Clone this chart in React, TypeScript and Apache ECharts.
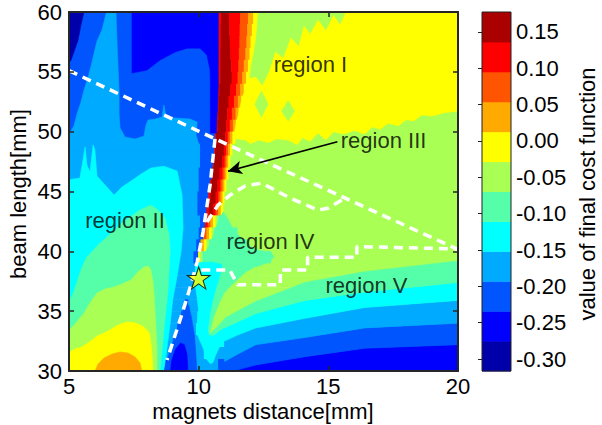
import React, { useEffect, useRef } from 'react';
import * as echarts from 'echarts';

const FONT = '"Liberation Sans", Arial, Helvetica, sans-serif';

const xTicks = [5, 10, 15, 20];
const yTicks = [30, 35, 40, 45, 50, 55, 60];
const cbTicks = [-0.3, -0.25, -0.2, -0.15, -0.1, -0.05, 0, 0.05, 0.1, 0.15];
const cbEdges = [-0.3165, -0.2753, -0.2342, -0.193, -0.1518, -0.1107, -0.0695, -0.0283, 0.0128, 0.054, 0.0952, 0.1363, 0.1775];
const jet12 = ['#0000AA', '#0000FF', '#0055FF', '#00AAFF', '#00FFFF', '#55FFAA', '#AAFF55', '#FFFF00', '#FFAA00', '#FF5500', '#FF0000', '#AA0000'];

// base field, row by row: [yBottom, level, xEnd, level, xEnd, ...] starting at x = 5
const fieldRows: number[][] = [
  [59, 2, 10.75, 10, 10.86, 11, 11.17, 10, 11.6, 9, 11.9, 8, 12.1, 7, 20],
  [58, 2, 10.75, 10, 10.85, 11, 11.18, 10, 11.58, 9, 11.87, 8, 12.05, 7, 20],
  [57, 2, 10.75, 10, 10.85, 11, 11.2, 10, 11.57, 9, 11.84, 8, 12.0, 7, 20],
  [56, 2, 10.75, 10, 10.84, 11, 11.22, 10, 11.55, 9, 11.8, 8, 11.96, 7, 20],
  [55, 2, 10.75, 10, 10.84, 11, 11.25, 10, 11.53, 9, 11.74, 8, 11.9, 7, 20],
  [54, 2, 10.75, 10, 10.83, 11, 11.27, 10, 11.5, 9, 11.68, 8, 11.83, 7, 20],
  [53, 2, 10.74, 10, 10.8, 11, 11.22, 10, 11.44, 9, 11.6, 8, 11.74, 7, 20],
  [52, 2, 10.72, 10, 10.77, 11, 11.15, 10, 11.36, 9, 11.51, 8, 11.64, 7, 20],
  [51, 2, 10.7, 10, 10.75, 11, 11.1, 10, 11.28, 9, 11.42, 8, 11.54, 7, 11.65, 6, 20],
  [50, 2, 10.68, 10, 10.72, 11, 11.06, 10, 11.2, 9, 11.32, 8, 11.43, 7, 11.53, 6, 20],
  [49, 2, 10.63, 10, 10.67, 11, 11.02, 10, 11.12, 9, 11.2, 8, 11.3, 7, 11.42, 6, 20],
  [48, 3, 10.05, 2, 10.6, 10, 10.63, 11, 10.97, 10, 11.06, 9, 11.13, 8, 11.21, 7, 11.3, 6, 20],
  [47, 3, 10.05, 2, 10.55, 10, 10.58, 11, 10.9, 10, 11.0, 9, 11.07, 8, 11.14, 7, 11.22, 6, 20],
  [46, 3, 10.0, 2, 10.5, 10, 10.52, 11, 10.8, 10, 10.92, 9, 11.0, 8, 11.07, 7, 11.15, 6, 20],
  [45, 3, 10.0, 2, 10.44, 10, 10.47, 11, 10.72, 10, 10.84, 9, 10.92, 8, 10.99, 7, 11.07, 6, 20],
  [44, 3, 9.95, 2, 10.37, 10, 10.45, 11, 10.65, 10, 10.76, 9, 10.84, 8, 10.92, 7, 11.0, 6, 20],
  [43, 3, 9.95, 2, 10.3, 10, 10.4, 11, 10.55, 10, 10.65, 9, 10.75, 8, 10.85, 7, 10.95, 6, 20],
  [42, 3, 10.05, 2, 10.24, 10, 10.35, 9, 10.45, 8, 10.55, 7, 10.65, 6, 10.75, 5, 11.0, 6, 20],
  [41, 3, 10.0, 2, 10.17, 9, 10.3, 8, 10.4, 7, 10.5, 6, 10.6, 5, 11.5, 6, 20],
  [40, 3, 9.9, 2, 10.07, 8, 10.2, 7, 10.3, 6, 10.4, 5, 11.9, 6, 20],
  [39, 3, 9.8, 2, 9.98, 7, 10.05, 6, 10.15, 5, 12.8, 6, 20],
  [38, 3, 9.87, 4, 10.85, 5, 11.9, 6, 20],
  [37, 3, 9.85, 4, 10.75, 5, 11.5, 6, 20],
  [36, 3, 9.95, 4, 10.65, 5, 11.0, 6, 20],
  [35, 3, 9.46, 2, 9.6, 3, 10.0, 4, 10.45, 5, 10.8, 6, 20],
  [34, 3, 9.32, 2, 9.5, 3, 9.95, 4, 10.45, 5, 10.7, 6, 20],
  [33, 3, 9.17, 2, 9.45, 3, 9.9, 4, 10.3, 5, 10.45, 6, 10.6, 5, 10.9, 4, 20],
  [32, 3, 9.02, 2, 9.25, 1, 9.6, 2, 9.85, 3, 10.2, 4, 10.45, 5, 10.6, 4, 11.0, 3, 20],
  [31, 3, 8.87, 1, 9.55, 2, 9.85, 3, 10.2, 4, 10.6, 3, 20],
  [30, 3, 8.72, 1, 9.5, 2, 9.9, 3, 10.75, 2, 20],
];

// closed contour regions (x, y outlines), painted in order
const regionOutlines: { level: number; pts: number[][] }[] = [
  { level: 3, pts: [[6.47, 60.2], [6.81, 60.2], [6.85, 57.57], [6.89, 55.48], [6.93, 53.48], [6.93, 51.47], [6.97, 50.3], [7.16, 49.55], [7.55, 49.38], [7.89, 49.63], [7.97, 50.55], [8.05, 50.97], [8.32, 51.05], [8.59, 51.22], [8.66, 52.22], [8.74, 51.22], [9.09, 51.14], [9.67, 51.05], [9.94, 50.8], [9.9, 49.72], [10.01, 48.88], [10.05, 48.4], [4.9, 48.4], [4.9, 49.47], [5.19, 50.47], [5.31, 51.47], [5.46, 52.47], [5.58, 53.48], [5.73, 54.48], [5.85, 55.48], [5.96, 56.48], [6.08, 57.57], [6.27, 58.49]] },
  { level: 0, pts: [[4.9, 60.2], [5.6, 60.2], [5.46, 58.91], [5.35, 57.65], [5.19, 56.65], [5.08, 55.98], [4.9, 55.48]] },
  { level: 1, pts: [[7.43, 60.2], [10.76, 60.2], [10.76, 54.0], [10.73, 52.0], [10.7, 51.0], [10.68, 49.88], [10.45, 49.88], [10.45, 54.0], [10.44, 55.15], [10.32, 56.4], [10.05, 56.98], [9.55, 56.98], [9.09, 56.65], [8.51, 55.98], [8.01, 55.15], [7.43, 54.9]] },
  { level: 4, pts: [[4.9, 45.96], [5.42, 46.12], [5.54, 47.63], [5.62, 48.71], [5.69, 47.21], [5.81, 46.62], [5.93, 48.88], [6.0, 48.46], [6.08, 46.29], [6.39, 45.54], [6.74, 44.7], [7.04, 45.37], [7.39, 45.87], [7.78, 46.46], [8.16, 46.96], [8.66, 47.12], [9.17, 46.71], [9.36, 44.7], [9.4, 41.95], [9.32, 39.94], [9.17, 37.94], [9.0, 35.93], [8.9, 33.93], [8.78, 31.92], [8.62, 29.5], [4.9, 29.5]] },
  { level: 5, pts: [[4.9, 35.35], [5.15, 36.43], [5.31, 37.44], [5.46, 38.44], [5.66, 39.44], [6.08, 40.44], [6.58, 41.45], [7.08, 42.45], [7.74, 43.45], [8.16, 43.87], [8.43, 43.45], [8.7, 42.78], [8.86, 41.36], [8.9, 40.11], [8.86, 38.44], [8.82, 36.77], [8.74, 35.1], [8.66, 33.43], [8.59, 31.75], [8.51, 30.0], [8.5, 29.5], [4.9, 29.5]] },
  { level: 6, pts: [[4.9, 33.17], [5.27, 34.01], [5.58, 34.85], [5.81, 35.68], [6.08, 36.52], [6.39, 36.85], [6.74, 37.02], [7.04, 37.27], [7.39, 37.6], [7.66, 38.27], [7.89, 38.69], [8.05, 38.77], [8.16, 38.44], [8.24, 37.44], [8.28, 36.52], [8.32, 34.85], [8.36, 33.17], [8.39, 31.75], [8.39, 29.5], [4.9, 29.5]] },
  { level: 7, pts: [[4.9, 31.42], [5.23, 31.84], [5.5, 32.0], [5.73, 32.34], [5.89, 32.59], [6.08, 32.92], [6.35, 33.17], [6.58, 33.43], [6.89, 33.84], [7.24, 34.09], [7.58, 34.01], [7.89, 33.68], [8.09, 33.17], [8.16, 32.34], [8.2, 31.34], [8.24, 29.5], [4.9, 29.5]] },
  { level: 8, pts: [[5.9, 29.5], [6.12, 30.58], [6.35, 31.09], [6.66, 31.42], [6.97, 31.59], [7.28, 31.5], [7.55, 31.17], [7.74, 30.67], [7.86, 29.5]] },
  // trough below the star
  { level: 2, pts: [[8.6, 29.5], [8.78, 30.92], [9.05, 32.7], [9.32, 34.51], [9.46, 35.5], [9.62, 35.5], [9.72, 34.5], [9.82, 33.2], [9.88, 31.8], [9.92, 30.5], [9.95, 29.5]] },
  { level: 1, pts: [[8.9, 29.5], [8.95, 30.8], [9.1, 31.8], [9.3, 32.35], [9.45, 32.2], [9.55, 31.4], [9.58, 30.2], [9.6, 29.5]] },
  // region under "region IV" and the tongue below it
  { level: 5, pts: [[10.15, 39.5], [10.4, 40.5], [10.6, 41.5], [10.75, 42.5], [10.95, 43.3], [11.1, 42.8], [11.3, 42.0], [11.6, 41.2], [11.9, 40.5], [12.3, 40.1], [12.8, 39.9], [12.9, 39.5], [12.6, 39.0], [12.2, 38.7], [12.2, 35.8], [11.5, 35.0], [11.0, 34.4], [11.0, 33.6], [10.7, 33.0], [10.5, 32.6], [10.25, 32.6], [10.25, 39.3]] },
  { level: 4, pts: [[9.9, 39.05], [9.85, 38.0], [9.88, 37.0], [9.95, 36.0], [10.0, 35.0], [9.95, 34.0], [9.92, 33.2], [10.05, 32.5], [10.2, 31.8], [10.3, 31.0], [10.45, 30.6], [10.55, 30.7], [10.65, 31.3], [10.8, 32.0], [11.0, 32.5], [11.0, 33.6], [10.8, 33.3], [10.55, 32.9], [10.38, 33.0], [10.35, 33.5], [10.4, 34.2], [10.45, 35.0], [10.55, 36.0], [10.65, 36.8], [10.75, 37.5], [10.85, 38.3], [10.9, 38.9], [10.5, 39.1]] },
  { level: 6, pts: [[10.45, 33.2], [10.7, 33.7], [11.0, 34.4], [11.5, 35.0], [12.2, 35.8], [12.2, 38.7], [11.8, 38.2], [11.5, 37.6], [11.2, 37.0], [11.0, 36.5], [10.8, 35.6], [10.6, 34.5]] },
  // region I: lower edge of the yellow area, the green-yellow zone at its top left and two patches
  { level: 7, pts: [[11.74, 53.2], [11.64, 52.5], [11.54, 51.5], [11.43, 50.5], [11.35, 49.6], [11.45, 49.4], [11.8, 49.3], [12.0, 49.0], [12.3, 49.3], [12.7, 49.1], [13.0, 49.4], [13.45, 49.3], [13.8, 48.9], [14.0, 49.5], [14.3, 49.2], [14.6, 49.9], [14.9, 49.3], [15.2, 50.0], [15.6, 49.8], [16.0, 50.1], [16.4, 49.8], [16.7, 50.4], [17.0, 50.2], [17.3, 50.7], [17.7, 50.5], [18.0, 51.0], [18.3, 50.9], [18.6, 51.4], [19.0, 51.3], [19.5, 51.6], [20.0, 51.7], [20.2, 51.7], [20.2, 53.2]] },
  { level: 6, pts: [[12.3, 60.2], [15.7, 60.2], [15.45, 59.0], [15.2, 59.8], [14.9, 58.5], [14.6, 59.4], [14.3, 58.2], [14.05, 58.9], [13.85, 57.2], [13.55, 57.9], [13.25, 56.2], [12.95, 56.7], [12.7, 55.0], [12.45, 53.9], [12.2, 54.6], [11.97, 54.5], [12.03, 55.5], [12.12, 56.5], [12.2, 57.5], [12.25, 58.5]] },
  { level: 6, pts: [[12.42, 53.4], [12.67, 52.3], [12.42, 51.2], [12.17, 52.3]] },
  { level: 6, pts: [[13.45, 52.6], [13.7, 51.7], [13.45, 50.9], [13.2, 51.7]] },
];

// lower-right contour band boundaries (y at bandX)
const bandX = [11.0, 11.5, 12.2, 14.1, 16.4, 20];
const bound65 = [34.4, 35.0, 35.8, 37.4, 38.3, 39.2];
const bound54 = [33.6, 34.1, 34.8, 35.9, 36.6, 37.4];
const bound43 = [32.5, 33.0, 33.6, 34.4, 35.3, 35.9];
const bound32 = [30.8, 31.4, 32.2, 32.8, 33.6, 34.0];
const bound21 = [29.8, 30.1, 30.5, 31.2, 31.9, 32.2];

const lineA = [[5, 55.1], [10.63, 49.4], [20, 40.15]];
const lineB = [[10.63, 49.4], [10.44, 45.54], [10.17, 41.61], [9.94, 39.1], [9.7, 37.18], [9.32, 34.51], [8.78, 30.92]];
const lineC = [[10.32, 42.45], [10.75, 43.87], [11.21, 44.7], [11.79, 45.46], [12.44, 45.7], [13.45, 44.53], [14.6, 43.45], [14.99, 43.6], [15.64, 44.45]];
const lineD = [[10.1, 38.45], [11.2, 38.45], [11.5, 37.2], [13.15, 37.2], [13.15, 38.45], [14.2, 38.45], [14.2, 39.5], [16.1, 39.5], [16.1, 40.4], [20, 40.2]];
const starPoint = [10.0, 37.77];
const arrowFrom = [15.35, 49.15];
const arrowTo = [11.13, 46.7];
const regionLabels = [
  { name: 'region I', value: [14.31, 55.65] },
  { name: 'region III', value: [17.13, 49.3] },
  { name: 'region II', value: [7.16, 42.61] },
  { name: 'region IV', value: [12.77, 40.86] },
  { name: 'region V', value: [16.47, 37.18] },
];

export default function App() {
  const ref = useRef<HTMLDivElement>(null);
  useEffect(() => {
    if (!ref.current) return;
    const chart = echarts.init(ref.current, undefined, { renderer: 'svg' });

    const segments: number[][] = [];
    fieldRows.forEach((r) => {
      const y0 = r[0];
      let x = 5;
      for (let i = 1; i < r.length; i += 2) {
        segments.push([x, r[i + 1], y0, y0 + 1, r[i]]);
        x = r[i + 1];
      }
    });
    const cbData = jet12.map((_, i) => [i, cbEdges[i], cbEdges[i + 1]]);
    const bottomLine = bandX.map(() => 29);
    const bands = [
      { level: 1, lower: bottomLine, upper: bound21 },
      { level: 2, lower: bound21, upper: bound32 },
      { level: 3, lower: bound32, upper: bound43 },
      { level: 4, lower: bound43, upper: bound54 },
      { level: 5, lower: bound54, upper: bound65 },
    ];
    const polys: { level: number; pts: number[][] }[] = [...regionOutlines];
    bands.forEach((b) => {
      const pts: number[][] = [];
      bandX.forEach((x, k) => pts.push([x, b.lower[k]]));
      for (let k = bandX.length - 1; k >= 0; k--) pts.push([bandX[k], b.upper[k]]);
      polys.push({ level: b.level, pts });
    });

    const axisColor = '#262626';
    const mainAxisCommon = {
      gridIndex: 0,
      type: 'value' as const,
      z: 10,
      axisLine: { show: true, onZero: false, lineStyle: { color: axisColor, width: 2 } },
      axisTick: { show: true, inside: true, length: 5, lineStyle: { color: axisColor, width: 1.5 } },
      splitLine: { show: false },
    };
    const FS = 22;
    const labelStyle = { color: '#000', fontSize: FS, fontFamily: FONT };

    const option: any = {
      animation: false,
      backgroundColor: '#fff',
      grid: [
        { left: 69, top: 12, width: 389, height: 359 },
        { left: 482, top: 12, width: 29, height: 359 },
      ],
      xAxis: [
        { ...mainAxisCommon, min: xTicks[0], max: xTicks[xTicks.length - 1], interval: 5, position: 'bottom', axisLabel: { ...labelStyle, margin: 4 } },
        { ...mainAxisCommon, min: xTicks[0], max: xTicks[xTicks.length - 1], interval: 5, position: 'top', axisLabel: { show: false } },
        { gridIndex: 1, type: 'value', min: 0, max: 1, show: false },
      ],
      yAxis: [
        { ...mainAxisCommon, min: yTicks[0], max: yTicks[yTicks.length - 1], interval: 5, position: 'left', axisLabel: { ...labelStyle, margin: 7 } },
        { ...mainAxisCommon, min: yTicks[0], max: yTicks[yTicks.length - 1], interval: 5, position: 'right', axisLabel: { show: false } },
        {
          gridIndex: 1, type: 'value', min: cbEdges[0], max: cbEdges[cbEdges.length - 1], position: 'right', z: 10,
          axisLine: { show: false },
          axisTick: { show: true, inside: true, length: 4, customValues: cbTicks, lineStyle: { color: '#222', width: 1 } },
          axisLabel: { ...labelStyle, margin: 5, customValues: cbTicks, formatter: (v: number) => v.toFixed(2) },
          splitLine: { show: false },
        },
      ],
      series: [
        {
          type: 'custom', xAxisIndex: 0, yAxisIndex: 0, clip: true, silent: true, z: 1,
          data: segments,
          encode: { x: [0, 1], y: [2, 3] },
          renderItem: (params: any, api: any) => {
            const a = api.coord([api.value(0), api.value(3)]);
            const b = api.coord([api.value(1), api.value(2)]);
            return {
              type: 'rect',
              shape: { x: a[0], y: a[1], width: b[0] - a[0] + 0.6, height: b[1] - a[1] + 0.6 },
              style: { fill: jet12[api.value(4)] },
            };
          },
        },
        {
          type: 'custom', xAxisIndex: 0, yAxisIndex: 0, clip: true, silent: true, z: 2,
          data: polys.map((p, i) => [p.pts[0][0], p.pts[0][1], i]),
          encode: { x: 0, y: 1 },
          renderItem: (params: any, api: any) => {
            const p = polys[api.value(2)];
            return {
              type: 'polygon',
              shape: { points: p.pts.map((q) => api.coord(q)) },
              style: { fill: jet12[p.level], stroke: jet12[p.level], lineWidth: 0.6 },
            };
          },
        },
        {
          type: 'custom', xAxisIndex: 2, yAxisIndex: 2, silent: true, z: 1,
          data: cbData,
          encode: { y: [1, 2] },
          renderItem: (params: any, api: any) => {
            const a = api.coord([0, api.value(2)]);
            const b = api.coord([1, api.value(1)]);
            return {
              type: 'rect',
              shape: { x: a[0], y: a[1], width: b[0] - a[0], height: b[1] - a[1] + 0.5 },
              style: { fill: jet12[api.value(0)] },
            };
          },
        },
        {
          type: 'custom', xAxisIndex: 2, yAxisIndex: 2, silent: true, z: 3,
          data: [[cbEdges[0], cbEdges[cbEdges.length - 1]]],
          renderItem: (params: any, api: any) => {
            const a = api.coord([0, api.value(1)]);
            const b = api.coord([1, api.value(0)]);
            return {
              type: 'rect',
              shape: { x: a[0], y: a[1], width: b[0] - a[0], height: b[1] - a[1] },
              style: { fill: 'none', stroke: '#222', lineWidth: 1 },
            };
          },
        },
        ...[lineA, lineB, lineC, lineD].map((d) => ({
          type: 'line', xAxisIndex: 0, yAxisIndex: 0, data: d, symbol: 'none', silent: true, z: 4,
          lineStyle: { color: '#fff', width: 3.5, type: [9, 6], cap: 'butt' },
        })),
        {
          type: 'scatter', xAxisIndex: 0, yAxisIndex: 0, silent: true, z: 6,
          data: regionLabels,
          symbolSize: 1,
          itemStyle: { color: 'rgba(0,0,0,0)' },
          label: { show: true, position: 'inside', formatter: '{b}', ...labelStyle },
          markLine: {
            silent: true,
            symbol: ['none', 'arrow'],
            symbolSize: [10, 14],
            lineStyle: { color: '#000', width: 1.6, type: 'solid' },
            label: { show: false },
            data: [[{ coord: arrowFrom }, { coord: arrowTo }]],
          },
        },
        {
          type: 'scatter', xAxisIndex: 0, yAxisIndex: 0, silent: true, z: 7,
          data: [starPoint],
          symbol: 'path://M50,2 L61.8,38.2 L99.5,38.2 L69,60.6 L80.6,96.5 L50,74.3 L19.4,96.5 L31,60.6 L0.5,38.2 L38.2,38.2 Z',
          symbolSize: [23, 22],
          itemStyle: { color: '#FFFF00', borderColor: '#000', borderWidth: 1 },
        },
      ],
      graphic: [
        { type: 'text', x: 263, y: 411, style: { text: 'magnets distance[mm]', fill: '#000', fontSize: FS, fontFamily: FONT, align: 'center', verticalAlign: 'middle' } },
        { type: 'text', x: 18, y: 194, rotation: Math.PI / 2, style: { text: 'beam length[mm]', fill: '#000', fontSize: FS, fontFamily: FONT, align: 'center', verticalAlign: 'middle' } },
        { type: 'text', x: 587, y: 194, rotation: Math.PI / 2, style: { text: 'value of final cost function', fill: '#000', fontSize: FS, fontFamily: FONT, align: 'center', verticalAlign: 'middle' } },
      ],
    };
    chart.setOption(option);
    return () => chart.dispose();
  }, []);
  return <div ref={ref} style={{ position: 'absolute', left: 0, top: 0, width: 602, height: 425 }} />;
}
